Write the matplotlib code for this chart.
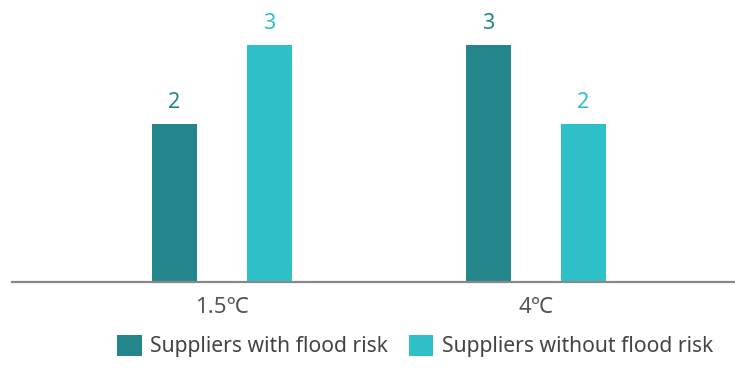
import numpy as np
import matplotlib.pyplot as plt

scenarios = ["1.5\u2103", "4\u2103"]
with_risk = [2, 3]
without_risk = [3, 2]
series_names = ["Suppliers with flood risk", "Suppliers without flood risk"]

dark = "#23868b"
light = "#2ec0c8"
plt.rcParams["font.family"] = ["Noto Sans", "DejaVu Sans"]

fig = plt.figure(figsize=(7.35, 3.68), dpi=100)
ax = fig.add_axes([12 / 735, 86 / 368, 723 / 735, 282 / 368])

x = np.arange(len(scenarios))
w = 0.143
off = 0.151
b1 = ax.bar(x - off, with_risk, w, color=dark, label=series_names[0])
b2 = ax.bar(x + off, without_risk, w, color=light, label=series_names[1])

for bars, col in ((b1, dark), (b2, light)):
    for r in bars:
        ax.annotate(str(int(r.get_height())), (r.get_x() + r.get_width() / 2, r.get_height()),
                    xytext=(0, 8), textcoords="offset points", ha="center", va="bottom",
                    color=col, fontsize=15.5)

ax.set_xlim(-0.669, 1.634)
ax.set_ylim(0, 3.57)
ax.set_xticks(x)
ax.set_xticklabels(scenarios, fontsize=16, color="#555555")
ax.tick_params(axis="x", length=0, pad=11)
ax.set_yticks([])
for s in ["top", "right", "left"]:
    ax.spines[s].set_visible(False)
ax.spines["bottom"].set_color("#888888")
ax.spines["bottom"].set_linewidth(1.6)
ax.patch.set_alpha(0)

fig.legend(handles=[b1, b2], loc="lower center", bbox_to_anchor=(0.565, 0.0), ncol=2,
           frameon=False, fontsize=15.2, handlelength=1.15, handleheight=1.15,
           handletextpad=0.4, columnspacing=1.0, labelcolor="#444444", borderaxespad=0.1)

fig.savefig("out.png", dpi=100)
